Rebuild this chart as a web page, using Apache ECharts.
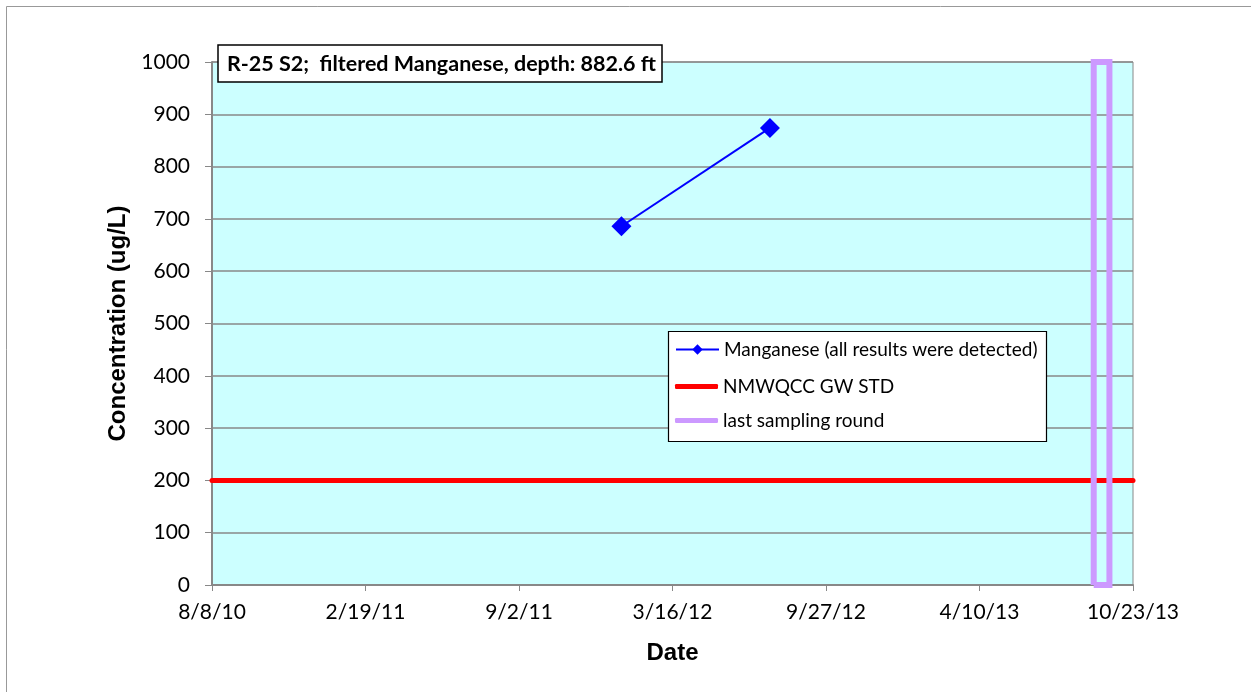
<!DOCTYPE html>
<html>
<head>
<meta charset="utf-8">
<script src="https://cdn.jsdelivr.net/npm/echarts@6/dist/echarts.min.js"></script>
<style>
  html, body { margin: 0; padding: 0; background: #fff; }
  #chart { width: 1251px; height: 692px; }
</style>
</head>
<body>
<div id="chart"></div>
<script>
// sample dates and filtered manganese results (ug/L)
var sampleDates = ['2012-01-11', '2012-07-18'];
var manganese = [686, 874];

// NMWQCC groundwater standard
var stdDates = ['2010-08-08', '2013-10-23'];
var stdValues = [200, 200];

// box marking the last sampling round
var lastRoundDates = ['2013-09-03', '2013-09-03', '2013-09-23', '2013-09-23', '2013-09-03'];
var lastRoundValues = [0, 1000, 1000, 0, 0];

var yTicks = [0, 100, 200, 300, 400, 500, 600, 700, 800, 900, 1000];
var xTickCount = 6;

var FONT = 'Lato, "Open Sans", sans-serif';
var AXIS_FONT = '"Liberation Sans", Arial, sans-serif';
var DAY = 86400000;
var startMs = Date.UTC(2010, 7, 8);
var endMs = Date.UTC(2013, 9, 23);
var spanDays = Math.round((endMs - startMs) / DAY);

// x axis runs in days counted from 8/8/10
function dayOf(s) {
    var p = s.split('-');
    return Math.round((Date.UTC(+p[0], +p[1] - 1, +p[2]) - startMs) / DAY);
}
function fmtDay(v) {
    var d = new Date(startMs + Math.floor(v + 1e-6) * DAY);
    return (d.getUTCMonth() + 1) + '/' + d.getUTCDate() + '/' + String(d.getUTCFullYear()).slice(2);
}
function pairs(xs, ys) {
    return xs.map(function (x, i) { return [dayOf(x), ys[i]]; });
}

var chart = echarts.init(document.getElementById('chart'));
var option = {
    animation: false,
    textStyle: { fontFamily: FONT },
    graphic: [
        {
            type: 'rect',
            shape: { x: 6.5, y: 6.5, width: 1260, height: 700 },
            style: { fill: 'none', stroke: '#999', lineWidth: 1 },
            z: -10
        },
        {
            // legend frame
            type: 'rect',
            shape: { x: 668.5, y: 331.5, width: 378, height: 110 },
            style: { fill: '#fff', stroke: '#000', lineWidth: 1.2 },
            z: 20
        }
    ],
    title: {
        text: 'R-25 S2;  filtered Manganese, depth: 882.6 ft',
        left: 218,
        top: 45,
        padding: [8, 6, 7, 9],
        backgroundColor: '#fff',
        borderColor: '#000',
        borderWidth: 1.5,
        textStyle: { fontFamily: FONT, fontSize: 21.5, fontWeight: 'bold', color: '#000' }
    },
    legend: [
        {
            left: 675,
            top: 340,
            padding: 0,
            itemWidth: 43,
            itemHeight: 13,
            itemGap: 4,
            z: 30,
            textStyle: { fontFamily: FONT, fontSize: 19, color: '#000' },
            data: ['Manganese (all results were detected)']
        },
        {
            orient: 'vertical',
            left: 675,
            top: 377,
            padding: 0,
            itemWidth: 43,
            itemHeight: 5,
            itemGap: 15,
            icon: 'roundRect',
            z: 30,
            textStyle: { fontFamily: FONT, fontSize: 19, color: '#000' },
            data: ['NMWQCC GW STD', 'last sampling round']
        }
    ],
    grid: {
        left: 212,
        right: 118,
        top: 62,
        bottom: 107,
        show: true,
        backgroundColor: '#ccffff',
        borderColor: '#888',
        borderWidth: 1
    },
    xAxis: {
        type: 'value',
        min: 0,
        max: spanDays,
        interval: spanDays / xTickCount,
        name: 'Date',
        nameLocation: 'middle',
        nameGap: 56,
        nameTextStyle: { fontFamily: AXIS_FONT, fontSize: 24, fontWeight: 'bold', color: '#000' },
        axisLine: { lineStyle: { color: '#888', width: 2 } },
        axisTick: { show: true, length: 6, lineStyle: { color: '#888' } },
        splitLine: { show: false },
        axisLabel: { fontSize: 21, color: '#000', margin: 17, formatter: fmtDay }
    },
    yAxis: {
        type: 'value',
        min: yTicks[0],
        max: yTicks[yTicks.length - 1],
        interval: yTicks[1] - yTicks[0],
        name: 'Concentration (ug/L)',
        nameLocation: 'middle',
        nameGap: 79,
        nameTextStyle: { fontFamily: AXIS_FONT, fontSize: 24, fontWeight: 'bold', color: '#000' },
        axisLine: { show: true, lineStyle: { color: '#888', width: 2 } },
        axisTick: { show: true, length: 7, lineStyle: { color: '#888' } },
        splitLine: { lineStyle: { color: '#888', width: 1.5 } },
        axisLabel: { fontSize: 21, color: '#000', margin: 22, formatter: function (v) { return String(v); } }
    },
    series: [
        {
            name: 'NMWQCC GW STD',
            type: 'line',
            data: pairs(stdDates, stdValues),
            symbol: 'none',
            lineStyle: { color: '#ff0000', width: 5, cap: 'round' },
            itemStyle: { color: '#ff0000' },
            z: 3
        },
        {
            name: 'last sampling round',
            type: 'line',
            data: pairs(lastRoundDates, lastRoundValues),
            symbol: 'none',
            lineStyle: { color: '#cc99ff', width: 6, join: 'miter' },
            itemStyle: { color: '#cc99ff' },
            z: 4
        },
        {
            name: 'Manganese (all results were detected)',
            type: 'line',
            data: pairs(sampleDates, manganese),
            symbol: 'diamond',
            symbolSize: 20,
            lineStyle: { color: '#0000ff', width: 2 },
            itemStyle: { color: '#0000ff' },
            z: 5
        }
    ]
};
chart.setOption(option);
</script>
</body>
</html>
